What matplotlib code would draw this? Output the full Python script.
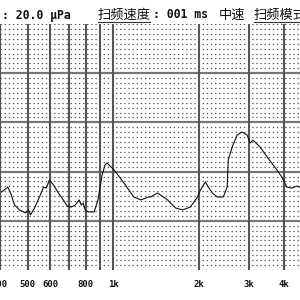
import matplotlib
matplotlib.use("Agg")
import matplotlib.pyplot as plt
from matplotlib.lines import Line2D

# Frequency (Hz) and response (uPa, 20.0 uPa per division)
freq = [405, 426, 436, 450, 469, 492, 504, 512, 529, 551, 569, 582, 597, 617, 642,
        668, 690, 712, 736, 760, 773, 785, 798, 817, 858, 885, 900, 915, 937, 952,
        1008, 1092, 1183, 1252, 1336, 1357, 1435, 1556, 1660, 1756, 1872, 1982,
        2030, 2113, 2165, 2236, 2328, 2443, 2522, 2543, 2626, 2734, 2846, 2963,
        3035, 3109, 3290, 3510, 3772, 3927, 4089, 4257, 4432, 4540]
level = [31.7, 33.7, 31.3, 26.4, 24.4, 23.2, 24.4, 22.4, 25.2, 29.7, 33.7, 33.3,
         36.6, 34.6, 31.3, 28.5, 26.0, 25.6, 26.4, 28.5, 26.4, 27.2, 24.4, 23.6,
         23.6, 28.5, 33.7, 38.6, 42.7, 43.5, 40.7, 35.4, 29.7, 28.5, 29.7, 29.7,
         31.3, 28.5, 25.2, 24.4, 25.6, 29.7, 32.5, 35.8, 33.7, 31.3, 29.7, 29.7,
         33.7, 44.7, 50.0, 54.9, 56.1, 54.9, 51.6, 52.8, 50.0, 45.5, 40.7, 37.8,
         33.7, 33.3, 34.1, 33.7]

tick_freqs = [400, 500, 600, 700, 800, 900, 1000, 2000, 3000, 4000]
tick_labels = ["400", "500", "600", "", "800", "", "1k", "2k", "3k", "4k"]
y_major = [20, 40, 60, 80]
y_minor = [v for v in range(2, 100, 2) if v % 20 != 0]

fig = plt.figure(figsize=(3, 3), dpi=100)
ax = fig.add_axes([0, 0.10, 1, 0.82])
ax.set_xscale("log")
ax.set_xlim(405, 4550)
ax.set_ylim(0, 100)

# dotted minor rows
for v in y_minor + [0, 100]:
    ax.axhline(v, color="#5a5a5a", lw=0.9, ls=(0, (1.1, 2.2)), zorder=1)
# major horizontal lines
for v in y_major:
    ax.axhline(v, color="#777777", lw=1.6, zorder=2)
# major vertical lines
for f in tick_freqs:
    ax.axvline(f, color="#555555", lw=1.5, zorder=2)

ax.plot(freq, level, color="#111111", lw=0.8, zorder=3)

ax.set_xticks(tick_freqs)
ax.set_xticklabels(tick_labels, family="DejaVu Sans Mono", fontweight="bold",
                   fontsize=6.5, color="#111111")
ax.xaxis.set_minor_locator(matplotlib.ticker.NullLocator())
ax.tick_params(axis="x", length=0, pad=7)
ax.set_yticks([])
for s in ax.spines.values():
    s.set_visible(False)

mono = dict(family=["DejaVu Sans Mono", "Noto Sans CJK SC"], fontweight="bold",
            fontsize=8.3, color="#111111", va="center")
cjk = dict(family=["Noto Sans CJK SC", "DejaVu Sans"], fontsize=9.5,
           color="#111111", va="center")
fig.text(0.005, 0.95, ": 20.0 μPa", ha="left", **mono)
fig.text(0.325, 0.95, "扫频速度", ha="left", **cjk)
fig.text(0.51, 0.95, ": 001 ms", ha="left", **mono)
fig.text(0.73, 0.95, "中速", ha="left", **cjk)
fig.text(0.845, 0.95, "扫频模式", ha="left", **cjk)
fig.add_artist(Line2D([0.327, 0.50], [0.927, 0.927], color="#333333", lw=0.8))
fig.add_artist(Line2D([0.845, 1.0], [0.927, 0.927], color="#333333", lw=0.8))

fig.savefig("out.png", dpi=100, facecolor="white")
